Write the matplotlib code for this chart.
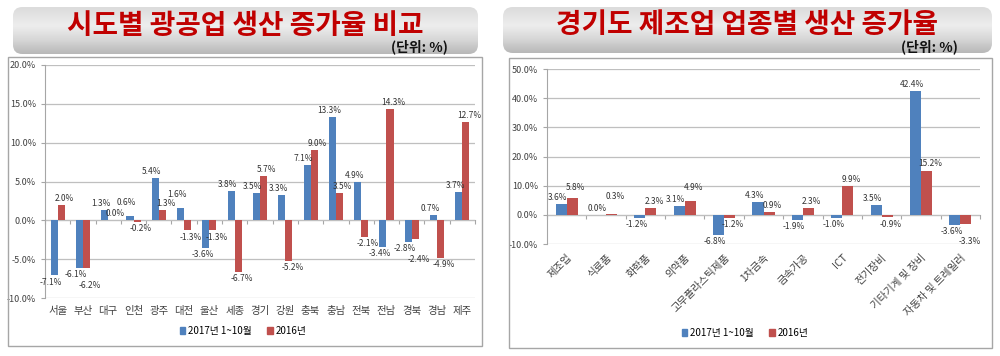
import numpy as np
import matplotlib
matplotlib.use("Agg")
import matplotlib.pyplot as plt
from matplotlib.patches import FancyBboxPatch, Rectangle, Patch

plt.rcParams['font.family'] = ['Noto Sans CJK KR', 'DejaVu Sans']

# left chart data
regions = ["서울", "부산", "대구", "인천", "광주", "대전", "울산", "세종", "경기",
           "강원", "충북", "충남", "전북", "전남", "경북", "경남", "제주"]
region_2017 = [-7.1, -6.1, 1.3, 0.6, 5.4, 1.6, -3.6, 3.8, 3.5, 3.3, 7.1, 13.3, 4.9, -3.4, -2.8, 0.7, 3.7]
region_2016 = [2.0, -6.2, 0.0, -0.2, 1.3, -1.3, -1.3, -6.7, 5.7, -5.2, 9.0, 3.5, -2.1, 14.3, -2.4, -4.9, 12.7]

# right chart data
industries = ["제조업", "식료품", "화학품", "의약품", "고무플라스틱제품", "1차금속",
              "금속가공", "ICT", "전기장비", "기타기계 및 장비", "자동차 및 트레일러"]
ind_2017 = [3.6, 0.0, -1.2, 3.1, -6.8, 4.3, -1.9, -1.0, 3.5, 42.4, -3.6]
ind_2016 = [5.8, 0.3, 2.3, 4.9, -1.2, 0.9, 2.3, 9.9, -0.9, 15.2, -3.3]

series_names = ["2017년 1~10월", "2016년"]
BLUE = "#4f81bd"
RED = "#c0504d"
W, H = 1000, 356

fig = plt.figure(figsize=(10, 3.56), dpi=100)
fig.patch.set_facecolor("white")


def fx(px):
    return px / W


def fy(py):
    return 1 - py / H


def title_box(x0, x1, y0, y1, title, unit_x):
    bax = fig.add_axes([fx(x0), fy(y1), fx(x1 - x0), (y1 - y0) / H])
    bax.set_xlim(0, 1)
    bax.set_ylim(0, 1)
    bax.axis("off")
    t = np.linspace(0, 1, 100)
    shade = np.interp(t, [0, 0.3, 0.6, 1.0], [0.72, 0.84, 0.93, 0.86])
    grad = np.tile(shade[:, None], (1, 10))
    im = bax.imshow(grad, cmap="gray", vmin=0, vmax=1, extent=[0, 1, 0, 1],
                    origin="lower", aspect="auto")
    box = FancyBboxPatch((0, 0), 1, 1, boxstyle="round,pad=0,rounding_size=0.02",
                         mutation_aspect=(x1 - x0) / (y1 - y0),
                         transform=bax.transData, facecolor="none", edgecolor="none")
    bax.add_patch(box)
    im.set_clip_path(box)
    bax.text(0.5, 0.6, title, ha="center", va="center", color="#c00000",
             fontsize=20, fontweight="bold")
    fig.text(fx(unit_x), fy(47), "(단위: %)", ha="right", va="center",
             fontsize=10, fontweight="bold", color="#111111")


def frame(x0, x1, y0, y1):
    fig.patches.append(Rectangle((fx(x0), fy(y1)), fx(x1 - x0), (y1 - y0) / H,
                                 transform=fig.transFigure, fill=False,
                                 edgecolor="#a6a6a6", linewidth=1.0, zorder=0))


def bar_chart(ax, cats, s1, s2, ylo, yhi, step, rotate):
    n = len(cats)
    x = np.arange(n)
    w = 0.28
    b1 = ax.bar(x - w / 2, s1, w, color=BLUE, zorder=3)
    b2 = ax.bar(x + w / 2, s2, w, color=RED, zorder=3)
    labels = []
    for i in range(n):
        for bars, vals, dx in ((b1, s1, -2.5), (b2, s2, 2.5)):
            b, v = bars[i], vals[i]
            cx = b.get_x() + b.get_width() / 2
            off = 1.5 if v >= 0 else -1.5
            a = ax.annotate(f"{v:.1f}%", (cx, v), xytext=(dx, off), textcoords="offset points",
                            ha="center", va="bottom" if v >= 0 else "top",
                            fontsize=6, color="#333333", zorder=5)
            labels.append((a, dx, off))
    ax.set_xlim(-0.5, n - 0.5)
    ax.set_ylim(ylo, yhi)
    ax.set_yticks(np.arange(ylo, yhi + 0.01, step))
    ax.set_yticklabels([f"{v:.1f}%" for v in np.arange(ylo, yhi + 0.01, step)])
    ax.yaxis.grid(True, color="#bfbfbf", linewidth=0.9, zorder=0)
    ax.set_axisbelow(True)
    ax.tick_params(axis="y", labelsize=6.5, labelcolor="#404040", length=3,
                   color="#a6a6a6", width=0.8)
    ax.set_xticks(x)
    if rotate:
        ax.set_xticklabels(cats, rotation=45, ha="right", rotation_mode="anchor",
                           fontsize=7.5, color="#404040")
    else:
        ax.set_xticklabels(cats, fontsize=7.5, color="#404040")
    ax.tick_params(axis="x", length=0, pad=6)
    for side in ("top", "right", "bottom"):
        ax.spines[side].set_visible(False)
    ax.spines["left"].set_color("#a6a6a6")
    zero_pos = (0 - ylo) / (yhi - ylo)
    sec = ax.secondary_xaxis(zero_pos)
    sec.set_xticks(np.arange(-0.5, n, 1.0))
    sec.set_xticklabels([])
    sec.tick_params(length=3, direction="out", color="#a6a6a6", width=0.8)
    sec.spines["bottom"].set_color("#a6a6a6")
    return labels


def untangle(labels):
    # nudge value labels outward until they stop colliding
    renderer = fig.canvas.get_renderer()
    placed = []
    for a, dx, off in labels:
        dy = off
        for _ in range(10):
            a.xyann = (dx, dy)
            bb = a.get_window_extent(renderer).expanded(1.02, 1.0)
            if not any(bb.overlaps(p) for p in placed):
                break
            dy += 2.5 if off > 0 else -2.5
        placed.append(a.get_window_extent(renderer))


# left panel
title_box(13, 478, 7, 54, "시도별 광공업 생산 증가율 비교", 448)
frame(8, 482, 57, 346)
ax1 = fig.add_axes([fx(45), fy(298), fx(430), (298 - 65) / H])
labels1 = bar_chart(ax1, regions, region_2017, region_2016, -10, 20, 5, False)
handles = [Patch(color=BLUE), Patch(color=RED)]
fig.legend(handles, series_names, loc="center", bbox_to_anchor=(fx(243), fy(331)),
           ncol=2, frameon=False, fontsize=7, handlelength=0.6, handleheight=0.6,
           columnspacing=1.5, handletextpad=0.3)

# right panel
title_box(503, 992, 7, 53, "경기도 제조업 업종별 생산 증가율", 958)
frame(509, 992, 58, 348)
ax2 = fig.add_axes([fx(547), fy(244), fx(433), (244 - 69) / H])
labels2 = bar_chart(ax2, industries, ind_2017, ind_2016, -10, 50, 10, True)
fig.legend(handles, series_names, loc="center", bbox_to_anchor=(fx(745), fy(333)),
           ncol=2, frameon=False, fontsize=7, handlelength=0.6, handleheight=0.6,
           columnspacing=1.5, handletextpad=0.3)

fig.canvas.draw()
untangle(labels1)
untangle(labels2)

fig.savefig("out.png", dpi=100, facecolor="white")
